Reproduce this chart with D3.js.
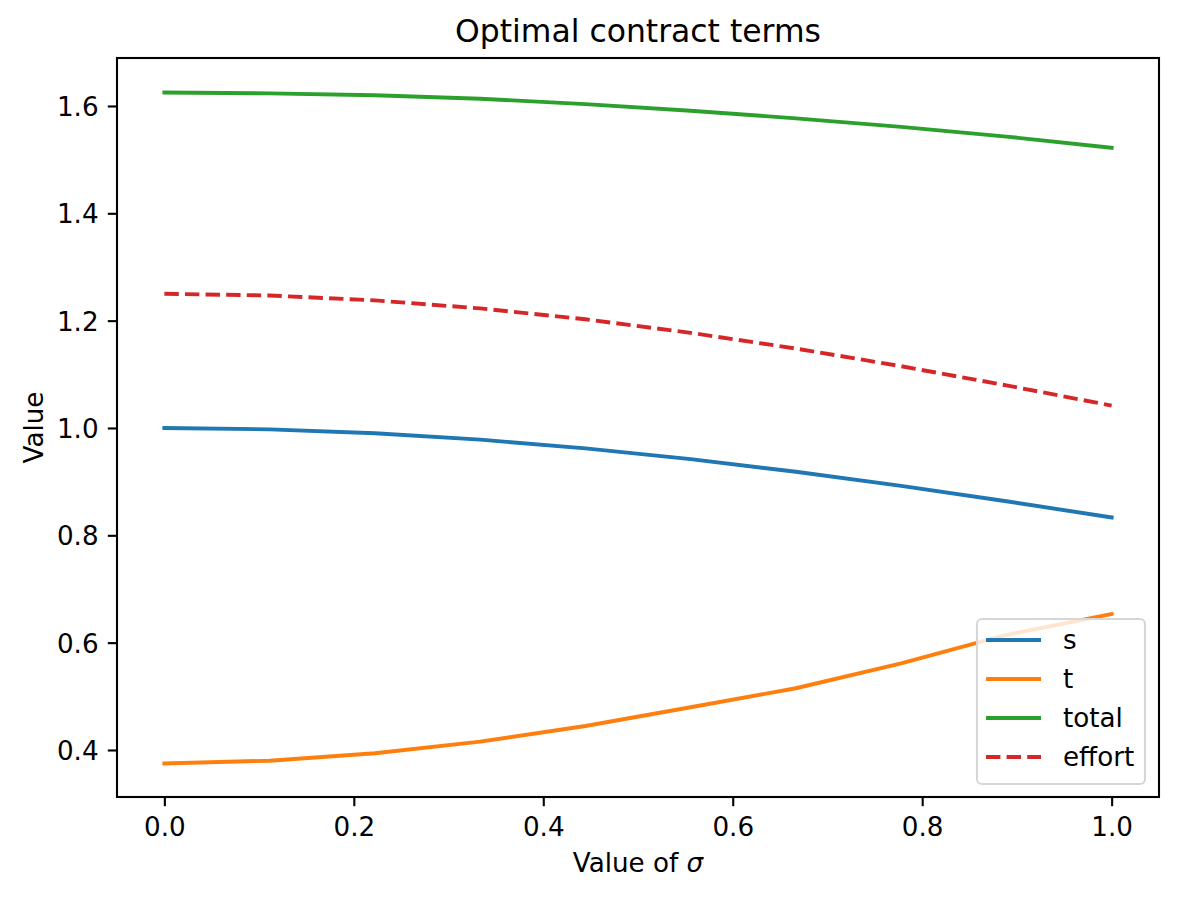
<!DOCTYPE html>
<html>
<head>
<meta charset="utf-8">
<script src="https://cdn.jsdelivr.net/npm/d3@7"></script>
<style>
  body { margin: 0; background: #fff; }
  svg { display: block; font-family: "DejaVu Sans", sans-serif; }
</style>
</head>
<body>
<svg id="chart" width="1177" height="898"></svg>
<script>
// ---- data ----
const sigma = [0, 1/9, 2/9, 3/9, 4/9, 5/9, 6/9, 7/9, 8/9, 1];
const sValues = [1.0, 0.9975, 0.9902, 0.9783, 0.9620, 0.9419, 0.9184, 0.8921, 0.8635, 0.8333];
const tValues = [0.375, 0.380, 0.394, 0.4155, 0.4447, 0.4796, 0.5150, 0.5615, 0.6143, 0.6534];
const totalValues = [1.625, 1.6235, 1.620, 1.6135, 1.6035, 1.591, 1.577, 1.561, 1.543, 1.522];
const effortValues = [1.25, 1.2469, 1.2378, 1.2228, 1.2025, 1.1773, 1.1480, 1.1151, 1.0794, 1.0417];
const xTicks = [0.0, 0.2, 0.4, 0.6, 0.8, 1.0];
const yTicks = [0.4, 0.6, 0.8, 1.0, 1.2, 1.4, 1.6];
const seriesNames = ["s", "t", "total", "effort"];
const seriesColors = ["#1f77b4", "#ff7f0e", "#2ca02c", "#d62728"];
const seriesDashed = [false, false, false, true];
const seriesData = [sValues, tValues, totalValues, effortValues];

// ---- layout ----
const svg = d3.select("#chart");
const L = 117, R = 1159, T = 58, B = 797;
const x = d3.scaleLinear().domain([-0.05, 1.05]).range([L, R]);
const y = d3.scaleLinear().domain([0.3124, 1.6894]).range([B, T]);
const fs = 26.2;
const lw = 3.9;

// lines
const line = d3.line().x(d => x(d[0])).y(d => y(d[1]));
seriesData.forEach((vals, i) => {
  svg.append("path")
    .datum(sigma.map((s, j) => [s, vals[j]]))
    .attr("d", line)
    .attr("fill", "none")
    .attr("stroke", seriesColors[i])
    .attr("stroke-width", lw)
    .attr("stroke-linecap", seriesDashed[i] ? "butt" : "square")
    .attr("stroke-linejoin", "round")
    .attr("stroke-dasharray", seriesDashed[i] ? "14.4,6.2" : null);
});

// axes
const xAxis = d3.axisBottom(x).tickValues(xTicks).tickFormat(d3.format(".1f")).tickSize(9.2).tickPadding(9.2);
const yAxis = d3.axisLeft(y).tickValues(yTicks).tickFormat(d3.format(".1f")).tickSize(9.2).tickPadding(9.2);
const gx = svg.append("g").attr("transform", `translate(0,${B})`).call(xAxis);
const gy = svg.append("g").attr("transform", `translate(${L},0)`).call(yAxis);
[gx, gy].forEach(g => {
  g.select(".domain").remove();
  g.selectAll(".tick line").attr("stroke", "#000").attr("stroke-width", 2.1);
  g.selectAll(".tick text").attr("fill", "#000").attr("font-size", fs)
    .attr("font-family", "DejaVu Sans");
});
gx.selectAll(".tick text").attr("dy", "0.78em");
gy.selectAll(".tick text").attr("dy", "0.36em");

// frame
svg.append("rect").attr("x", L).attr("y", T).attr("width", R - L).attr("height", B - T)
  .attr("fill", "none").attr("stroke", "#000").attr("stroke-width", 2.1);

// title & labels
svg.append("text").attr("x", (L + R) / 2).attr("y", 42).attr("text-anchor", "middle")
  .attr("font-size", fs * 1.2).attr("fill", "#000").text("Optimal contract terms");
const xl = svg.append("text").attr("x", (L + R) / 2).attr("y", 872).attr("text-anchor", "middle")
  .attr("font-size", fs).attr("fill", "#000");
xl.append("tspan").text("Value of ");
xl.append("tspan").attr("font-style", "italic").text("σ");
svg.append("text").attr("transform", `translate(43,${(T + B) / 2}) rotate(-90)`)
  .attr("text-anchor", "middle").attr("font-size", fs).attr("fill", "#000").text("Value");

// legend
const lg = svg.append("g");
lg.append("rect").attr("x", 977).attr("y", 619).attr("width", 168).attr("height", 165)
  .attr("rx", 5).attr("fill", "rgba(255,255,255,0.8)").attr("stroke", "#d6d6d6").attr("stroke-width", 2.1);
seriesNames.forEach((name, i) => {
  const yy = 640 + i * 39;
  lg.append("line").attr("x1", 986).attr("x2", 1041).attr("y1", yy).attr("y2", yy)
    .attr("stroke", seriesColors[i]).attr("stroke-width", lw)
    .attr("stroke-dasharray", seriesDashed[i] ? "14.4,6.2" : null);
  lg.append("text").attr("x", 1063).attr("y", yy).attr("dy", "0.36em")
    .attr("font-size", fs).attr("fill", "#000").text(name);
});
</script>
</body>
</html>
